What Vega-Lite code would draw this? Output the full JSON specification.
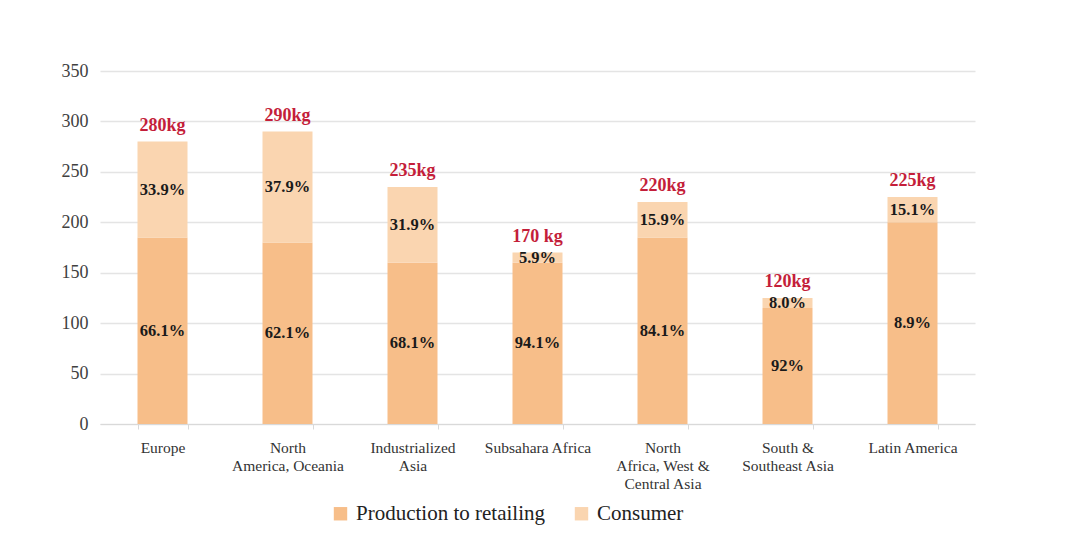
{
  "$schema": "https://vega.github.io/schema/vega-lite/v6.json",
  "autosize": {"type": "none"},
  "width": 875,
  "height": 353,
  "padding": {"left": 100, "top": 71, "right": 105, "bottom": 116},
  "background": "white",
  "config": {
    "view": {"stroke": null},
    "font": "Liberation Serif"
  },
  "datasets": {
    "parts": [
      {"region": "Europe", "stage": "Production to retailing", "ord": 1, "value": 185, "pct": "66.1%"},
      {"region": "Europe", "stage": "Consumer", "ord": 2, "value": 95, "pct": "33.9%"},
      {"region": "North|America, Oceania", "stage": "Production to retailing", "ord": 1, "value": 180, "pct": "62.1%"},
      {"region": "North|America, Oceania", "stage": "Consumer", "ord": 2, "value": 110, "pct": "37.9%"},
      {"region": "Industrialized|Asia", "stage": "Production to retailing", "ord": 1, "value": 160, "pct": "68.1%"},
      {"region": "Industrialized|Asia", "stage": "Consumer", "ord": 2, "value": 75, "pct": "31.9%"},
      {"region": "Subsahara Africa", "stage": "Production to retailing", "ord": 1, "value": 160, "pct": "94.1%"},
      {"region": "Subsahara Africa", "stage": "Consumer", "ord": 2, "value": 10, "pct": "5.9%"},
      {"region": "North|Africa, West &|Central Asia", "stage": "Production to retailing", "ord": 1, "value": 185, "pct": "84.1%"},
      {"region": "North|Africa, West &|Central Asia", "stage": "Consumer", "ord": 2, "value": 35, "pct": "15.9%"},
      {"region": "South &|Southeast Asia", "stage": "Production to retailing", "ord": 1, "value": 115, "pct": "92%"},
      {"region": "South &|Southeast Asia", "stage": "Consumer", "ord": 2, "value": 10, "pct": "8.0%"},
      {"region": "Latin America", "stage": "Production to retailing", "ord": 1, "value": 200, "pct": "8.9%"},
      {"region": "Latin America", "stage": "Consumer", "ord": 2, "value": 25, "pct": "15.1%"}
    ],
    "totals": [
      {"region": "Europe", "total": 280, "label": "280kg"},
      {"region": "North|America, Oceania", "total": 290, "label": "290kg"},
      {"region": "Industrialized|Asia", "total": 235, "label": "235kg"},
      {"region": "Subsahara Africa", "total": 170, "label": "170 kg"},
      {"region": "North|Africa, West &|Central Asia", "total": 220, "label": "220kg"},
      {"region": "South &|Southeast Asia", "total": 125, "label": "120kg"},
      {"region": "Latin America", "total": 225, "label": "225kg"}
    ]
  },
  "layer": [
    {
      "data": {"name": "parts"},
      "mark": {"type": "bar"},
      "encoding": {
        "x": {
          "field": "region", "type": "nominal", "sort": null,
          "scale": {"paddingInner": 0.6, "paddingOuter": 0.3},
          "axis": {
            "title": null, "labelAngle": 0,
            "labelExpr": "split(datum.label, '|')",
            "labelFont": "Liberation Serif", "labelFontSize": 15.5, "labelColor": "#333333",
            "labelLineHeight": 18, "labelPadding": 11, "labelLimit": 200,
            "domainColor": "#d9d9d9", "tickColor": "#d9d9d9", "tickSize": 5,
            "tickBand": "extent", "grid": false
          }
        },
        "y": {
          "field": "value", "type": "quantitative", "stack": "zero",
          "scale": {"domain": [0, 350]},
          "axis": {
            "title": null, "values": [0, 50, 100, 150, 200, 250, 300, 350],
            "domain": false, "ticks": false, "labelPadding": 12,
            "labelFont": "Liberation Serif", "labelFontSize": 18, "labelColor": "#404040",
            "gridColor": "#e4e4e4", "gridWidth": 1.5
          }
        },
        "color": {
          "field": "stage", "type": "nominal",
          "scale": {"domain": ["Production to retailing", "Consumer"], "range": ["#F7BE89", "#FAD5B0"]},
          "legend": {
            "title": null, "orient": "none", "direction": "horizontal",
            "legendX": 230, "legendY": 432,
            "symbolType": "square", "symbolSize": 180, "symbolStrokeWidth": 0,
            "labelFont": "Liberation Serif", "labelFontSize": 21, "labelColor": "#222222",
            "labelLimit": 400, "columnPadding": 26, "labelOffset": 5
          }
        },
        "order": {"field": "ord", "type": "quantitative"}
      }
    },
    {
      "data": {"name": "parts"},
      "transform": [
        {"stack": "value", "groupby": ["region"], "sort": [{"field": "ord", "order": "ascending"}], "as": ["v0", "v1"]},
        {"calculate": "(datum.v0 + datum.v1) / 2", "as": "mid"}
      ],
      "mark": {"type": "text", "fontSize": 16.5, "fontWeight": "bold", "color": "#1a1a1a", "baseline": "middle"},
      "encoding": {
        "x": {"field": "region", "type": "nominal", "sort": null},
        "y": {"field": "mid", "type": "quantitative"},
        "text": {"field": "pct"}
      }
    },
    {
      "data": {"name": "totals"},
      "mark": {"type": "text", "fontSize": 18, "fontWeight": "bold", "color": "#C41E3A", "baseline": "bottom", "dy": -7},
      "encoding": {
        "x": {"field": "region", "type": "nominal", "sort": null},
        "y": {"field": "total", "type": "quantitative"},
        "text": {"field": "label"}
      }
    }
  ]
}
